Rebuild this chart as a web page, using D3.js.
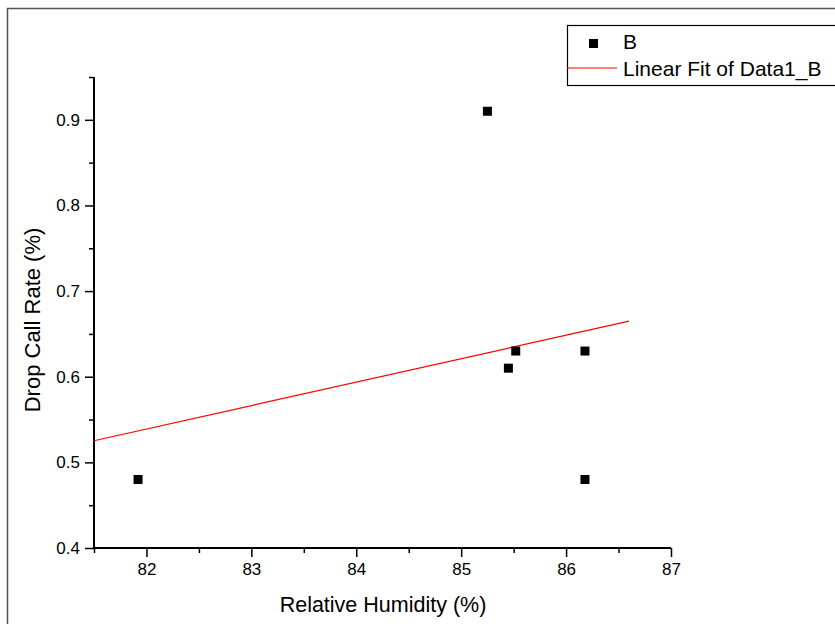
<!DOCTYPE html>
<html>
<head>
<meta charset="utf-8">
<script src="https://cdn.jsdelivr.net/npm/d3@7"></script>
<style>
  body { margin: 0; background: #fff; }
  svg { font-family: "Liberation Sans", Arial, sans-serif; }
</style>
</head>
<body>
<svg width="835" height="624"></svg>
<script>
// data
const humidity = [81.92, 85.25, 85.45, 85.52, 86.18, 86.18];
const dropRate = [0.48, 0.91, 0.61, 0.63, 0.63, 0.48];
const xTicks = [82, 83, 84, 85, 86, 87];
const yTicks = [0.4, 0.5, 0.6, 0.7, 0.8, 0.9];
const fitRange = [81.5, 86.6];
const seriesName = "B";
const fitName = "Linear Fit of Data1_B";

const svg = d3.select("svg");
const margin = { top: 77, left: 94 };
const plotRight = 671, plotBottom = 548;

const x = d3.scaleLinear().domain([81.5, 87]).range([margin.left, plotRight]);
const y = d3.scaleLinear().domain([0.4, 0.95]).range([plotBottom, margin.top]);

// outer frame
svg.append("rect")
  .attr("x", 7.5).attr("y", 8.5)
  .attr("width", 900).attr("height", 700)
  .attr("fill", "none").attr("stroke", "#555").attr("stroke-width", 1.5);

// minor ticks first
const xMinor = d3.range(81.5, 87.01, 0.5).filter(v => Math.abs(v - Math.round(v)) > 0.01);
const yMinor = d3.range(0.45, 0.951, 0.1);

svg.append("g")
  .attr("transform", "translate(0," + plotBottom + ")")
  .call(d3.axisBottom(x).tickValues(xMinor).tickSize(5).tickFormat(""))
  .call(g => g.select(".domain").remove())
  .selectAll("line").attr("stroke", "#000").attr("stroke-width", 1.5);

svg.append("g")
  .attr("transform", "translate(" + margin.left + ",0)")
  .call(d3.axisLeft(y).tickValues(yMinor).tickSize(5).tickFormat(""))
  .call(g => g.select(".domain").remove())
  .selectAll("line").attr("stroke", "#000").attr("stroke-width", 1.5);

// x axis
const xAxis = svg.append("g")
  .attr("transform", "translate(0," + plotBottom + ")")
  .call(d3.axisBottom(x).tickValues(xTicks).tickSize(9).tickSizeOuter(0).tickPadding(6).tickFormat(d3.format("d")));
xAxis.select(".domain").attr("stroke", "#000").attr("stroke-width", 2)
  .attr("d", "M" + margin.left + ",0H" + plotRight);
xAxis.selectAll("line").attr("stroke", "#000").attr("stroke-width", 1.5);
xAxis.attr("font-size", 17).attr("font-family", "'Liberation Sans', Arial, sans-serif");
xAxis.selectAll("text").attr("fill", "#000");

// y axis
const yAxis = svg.append("g")
  .attr("transform", "translate(" + margin.left + ",0)")
  .call(d3.axisLeft(y).tickValues(yTicks).tickSize(9).tickSizeOuter(0).tickPadding(5).tickFormat(d3.format(".1f")));
yAxis.select(".domain").attr("stroke", "#000").attr("stroke-width", 2)
  .attr("d", "M0," + margin.top + "V" + plotBottom);
yAxis.selectAll("line").attr("stroke", "#000").attr("stroke-width", 1.5);
yAxis.attr("font-size", 17).attr("font-family", "'Liberation Sans', Arial, sans-serif");
yAxis.selectAll("text").attr("fill", "#000");

// axis titles
svg.append("text")
  .attr("x", 383).attr("y", 612)
  .attr("text-anchor", "middle")
  .attr("font-size", 21.5)
  .text("Relative Humidity (%)");

svg.append("text")
  .attr("transform", "translate(40,320) rotate(-90)")
  .attr("text-anchor", "middle")
  .attr("font-size", 22)
  .text("Drop Call Rate (%)");

// linear fit (least squares)
const points = humidity.map((h, i) => ({ x: h, y: dropRate[i] }));
const mx = d3.mean(humidity), my = d3.mean(dropRate);
const slope = d3.sum(points, p => (p.x - mx) * (p.y - my)) / d3.sum(points, p => (p.x - mx) ** 2);
const intercept = my - slope * mx;

const line = d3.line().x(d => x(d)).y(d => y(intercept + slope * d));
svg.append("path")
  .attr("d", line(fitRange))
  .attr("fill", "none").attr("stroke", "#ff0000").attr("stroke-width", 1.2);

// points
svg.selectAll(".pt")
  .data(points)
  .enter()
  .append("rect")
  .attr("class", "pt")
  .attr("x", d => x(d.x) - 4.5)
  .attr("y", d => y(d.y) - 4.5)
  .attr("width", 9).attr("height", 9)
  .attr("fill", "#000");

// legend
const legend = svg.append("g");
legend.append("rect")
  .attr("x", 567.5).attr("y", 25.5)
  .attr("width", 400).attr("height", 60)
  .attr("fill", "#fff").attr("stroke", "#000").attr("stroke-width", 1.2);
legend.append("rect")
  .attr("x", 589).attr("y", 39).attr("width", 9).attr("height", 9).attr("fill", "#000");
legend.append("text")
  .attr("x", 623).attr("y", 49).attr("font-size", 21).text(seriesName);
legend.append("line")
  .attr("x1", 567).attr("x2", 617).attr("y1", 68).attr("y2", 68)
  .attr("stroke", "#ff0000").attr("stroke-width", 1.2);
legend.append("text")
  .attr("x", 623).attr("y", 76).attr("font-size", 21).text(fitName);
</script>
</body>
</html>
